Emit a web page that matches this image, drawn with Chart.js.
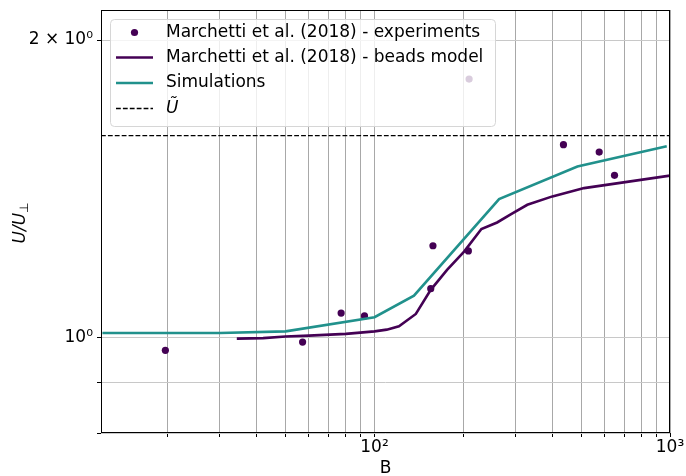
<!DOCTYPE html>
<html>
<head>
<meta charset="UTF-8">
<title>U/U_perp vs B</title>
<script src="https://cdn.jsdelivr.net/npm/chart.js"></script>
<style>
  body { margin: 0; background: #fff; overflow: hidden; }
</style>
</head>
<body>
<canvas id="chart" width="686" height="476"></canvas>
<script>
// axis limits
const xMin = 11.87, xMax = 1000;
const yMin = 0.8, yMax = 2.145;

// Marchetti et al. (2018) - experiments
const expB = [19.6, 57.1, 77.1, 92.5, 155, 157.7, 207.8, 209, 436, 576, 649];
const expU = [0.970, 0.989, 1.058, 1.051, 1.120, 1.238, 1.223, 1.826, 1.567, 1.540, 1.459];

// Marchetti et al. (2018) - beads model
const beadsB = [34.2, 42, 50, 60, 80, 100, 110, 121, 138, 155, 176, 201, 230, 260, 289, 329, 400, 512, 1000];
const beadsU = [0.997, 0.998, 1.002, 1.004, 1.008, 1.014, 1.018, 1.026, 1.056, 1.117, 1.170, 1.221, 1.287, 1.307, 1.332, 1.362, 1.389, 1.416, 1.458];

// Simulations
const simB = [12, 30, 50, 100, 136, 264, 486, 975];
const simU = [1.010, 1.010, 1.014, 1.048, 1.102, 1.380, 1.489, 1.561];

const uTilde = 1.6;

const xTicks = [20, 30, 40, 50, 60, 70, 80, 90, 100, 200, 300, 400, 500, 600, 700, 800, 900, 1000];
const xTickLabels = { 100: '10²', 1000: '10³' };
const yTicks = [0.8, 0.9, 1, 2];
const yTickLabels = { 1: '10⁰', 2: '2 × 10⁰' };

const legendNames = ['Marchetti et al. (2018) - experiments', 'Marchetti et al. (2018) - beads model', 'Simulations', 'Ũ'];

const purple = '#440154';
const teal = '#21918c';
const FONT = '"DejaVu Sans", sans-serif';

const pts = (xs, ys) => xs.map((x, i) => ({ x: x, y: ys[i] }));

// spines on top of the data
const spines = {
  id: 'spines',
  afterDatasetsDraw(chart) {
    const { ctx, chartArea: a } = chart;
    ctx.save();
    ctx.strokeStyle = '#000';
    ctx.lineWidth = 1;
    ctx.strokeRect(Math.round(a.left) + 0.5, Math.round(a.top) + 0.5,
      Math.round(a.right - a.left) - 1, Math.round(a.bottom - a.top) - 1);
    ctx.restore();
  }
};

// matplotlib style legend box + y axis label
const boxLegend = {
  id: 'boxLegend',
  afterDraw(chart) {
    const ctx = chart.ctx;
    ctx.save();
    ctx.beginPath();
    ctx.roundRect(110.5, 19.5, 385, 107, 4);
    ctx.fillStyle = 'rgba(255,255,255,0.8)';
    ctx.fill();
    ctx.strokeStyle = '#d6d6d6';
    ctx.lineWidth = 1;
    ctx.stroke();

    const rows = [32.5, 57.5, 83, 108.5];
    // marker: dot
    ctx.fillStyle = purple;
    ctx.beginPath();
    ctx.arc(134.5, rows[0], 3.6, 0, Math.PI * 2);
    ctx.fill();
    // lines
    ctx.lineWidth = 2.6;
    ctx.strokeStyle = purple;
    ctx.beginPath(); ctx.moveTo(116, rows[1]); ctx.lineTo(153, rows[1]); ctx.stroke();
    ctx.strokeStyle = teal;
    ctx.beginPath(); ctx.moveTo(116, rows[2]); ctx.lineTo(153, rows[2]); ctx.stroke();
    ctx.strokeStyle = '#000';
    ctx.lineWidth = 1.3;
    ctx.setLineDash([4.8, 2.1]);
    ctx.beginPath(); ctx.moveTo(116, rows[3]); ctx.lineTo(153, rows[3]); ctx.stroke();
    ctx.setLineDash([]);

    ctx.fillStyle = '#000';
    ctx.textBaseline = 'middle';
    ctx.textAlign = 'left';
    ctx.font = '17px ' + FONT;
    for (let i = 0; i < 3; i++) ctx.fillText(legendNames[i], 166, rows[i]);
    ctx.font = 'italic 17px ' + FONT;
    ctx.fillText(legendNames[3], 166, rows[3]);

    // y axis label U/U⊥
    ctx.translate(0, 223);
    ctx.rotate(-Math.PI / 2);
    ctx.textBaseline = 'alphabetic';
    ctx.font = 'italic 17px ' + FONT;
    const w1 = ctx.measureText('U/U').width;
    ctx.font = '12px ' + FONT;
    const w2 = ctx.measureText('⊥').width;
    const x0 = -(w1 + w2) / 2;
    ctx.font = 'italic 17px ' + FONT;
    ctx.fillText('U/U', x0, 25);
    ctx.font = '12px ' + FONT;
    ctx.fillText('⊥', x0 + w1, 28);
    ctx.restore();
  }
};

new Chart(document.getElementById('chart'), {
  type: 'line',
  data: {
    datasets: [
      {
        label: legendNames[3],
        data: [{ x: xMin, y: uTilde }, { x: xMax, y: uTilde }],
        borderColor: '#000',
        borderWidth: 1.3,
        borderDash: [4.8, 2.1],
        pointRadius: 0,
        order: 0
      },
      {
        label: legendNames[2],
        data: pts(simB, simU),
        borderColor: teal,
        borderWidth: 2.6,
        pointRadius: 0,
        order: 1
      },
      {
        label: legendNames[1],
        data: pts(beadsB, beadsU),
        borderColor: purple,
        borderWidth: 2.6,
        pointRadius: 0,
        order: 2
      },
      {
        label: legendNames[0],
        data: pts(expB, expU),
        showLine: false,
        pointRadius: 3.6,
        pointBorderWidth: 0,
        pointBackgroundColor: purple,
        borderColor: purple,
        order: 3
      }
    ]
  },
  options: {
    responsive: false,
    animation: false,
    layout: { padding: { left: 0, right: 16, top: 10, bottom: 0 } },
    plugins: { legend: { display: false }, tooltip: { enabled: false } },
    scales: {
      x: {
        type: 'logarithmic',
        min: xMin,
        max: xMax,
        afterBuildTicks: s => { s.ticks = xTicks.map(v => ({ value: v })); },
        afterFit: s => { s.height = 43; s.paddingLeft = 0; s.paddingRight = 0; },
        border: { display: false },
        grid: { color: '#a8a8a8', lineWidth: 1, tickColor: '#000', tickLength: 4 },
        ticks: {
          autoSkip: false,
          maxRotation: 0,
          padding: 0,
          color: '#000',
          font: { family: FONT, size: 17 },
          callback: v => xTickLabels[v] || ''
        },
        title: {
          display: true,
          text: 'B',
          color: '#000',
          font: { family: FONT, size: 17, lineHeight: 1 },
          padding: { top: 0, bottom: -1 }
        }
      },
      y: {
        type: 'logarithmic',
        min: yMin,
        max: yMax,
        afterBuildTicks: s => { s.ticks = yTicks.map(v => ({ value: v })); },
        afterFit: s => { s.width = 101; s.paddingTop = 0; s.paddingBottom = 0; },
        border: { display: false },
        grid: { color: '#c8c8c8', lineWidth: 1, tickColor: '#000', tickLength: 4 },
        ticks: {
          autoSkip: false,
          padding: 4,
          color: '#000',
          font: { family: FONT, size: 17 },
          callback: v => yTickLabels[v] || ''
        }
      }
    }
  },
  plugins: [spines, boxLegend]
});
</script>
</body>
</html>
